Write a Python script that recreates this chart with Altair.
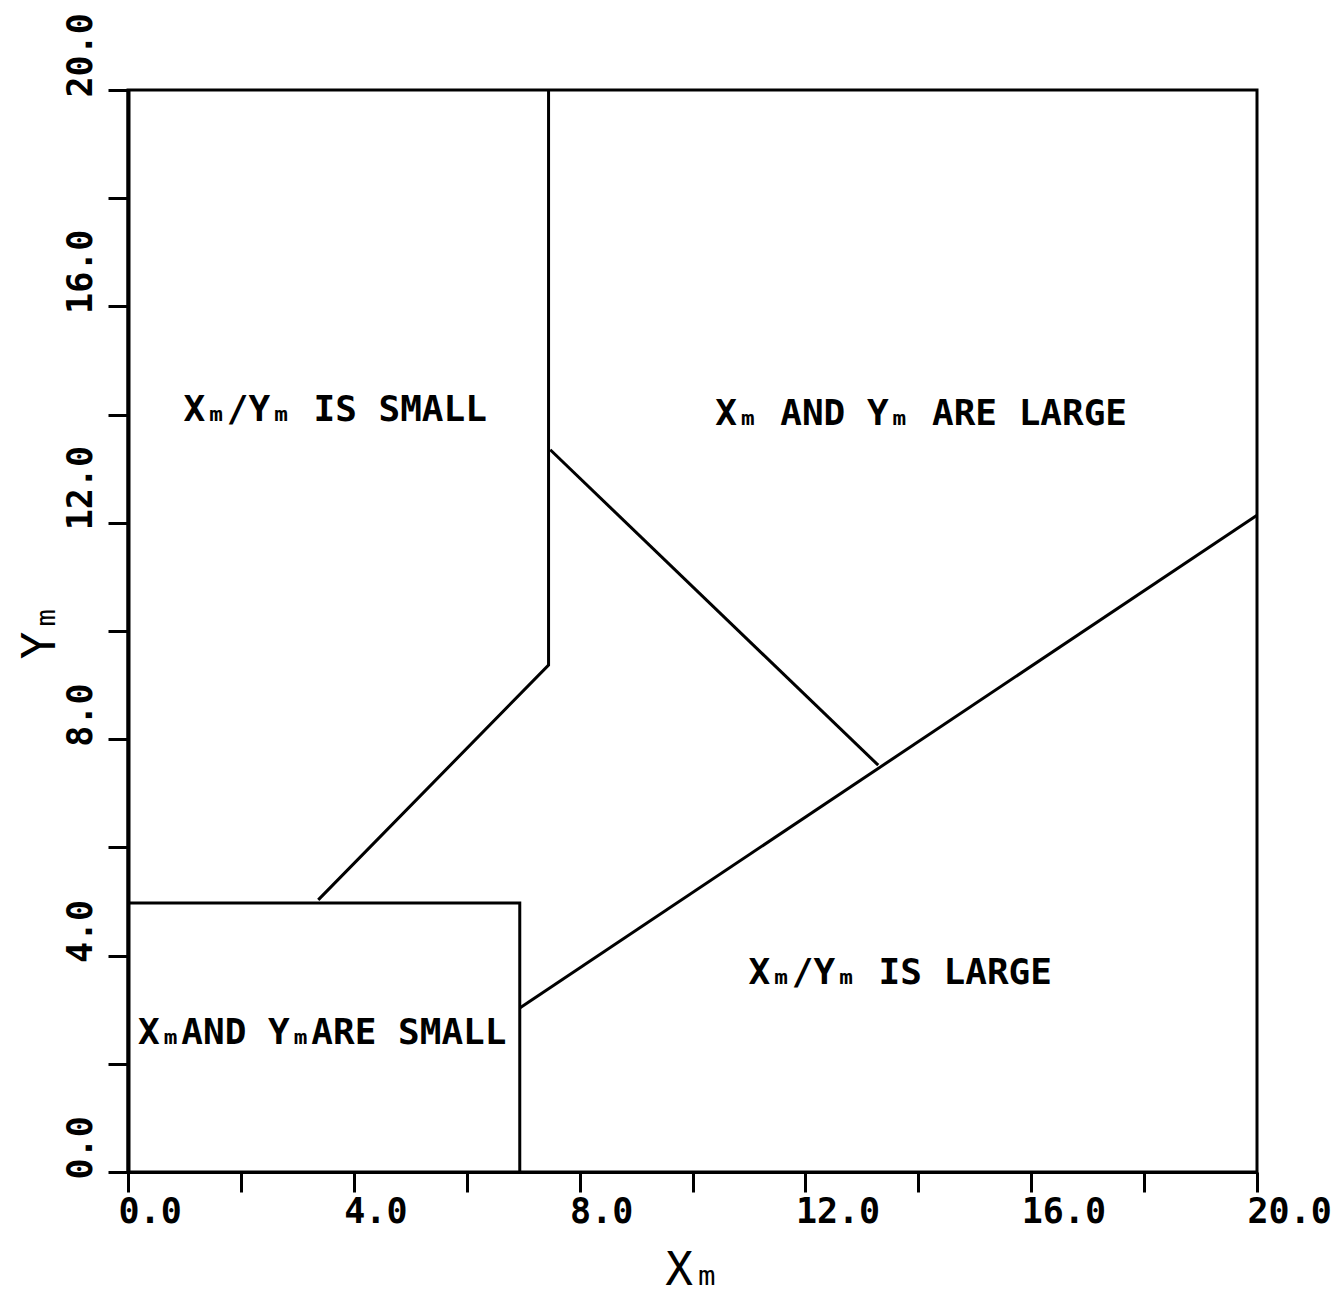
import altair as alt
import pandas as pd

# Boundary segments (data units)
seg_id = ["A", "A", "A", "B", "B", "B", "C", "C", "D", "D"]
seg_order = [0, 1, 2, 0, 1, 2, 0, 1, 0, 1]
seg_x = [7.45, 7.45, 3.37, 0.0, 6.94, 6.94, 6.94, 20.0, 7.48, 13.29]
seg_y = [20.0, 9.37, 5.03, 4.97, 4.97, 0.0, 3.03, 12.14, 13.35, 7.52]

# Region labels
label_text = ["Xₘ/Yₘ IS SMALL", "Xₘ AND Yₘ ARE LARGE", "Xₘ/Yₘ IS LARGE", "XₘAND YₘARE SMALL"]
label_x = [3.67, 14.05, 13.68, 3.44]
label_y = [14.08, 14.01, 3.68, 2.57]

tick_values = [0, 2, 4, 6, 8, 10, 12, 14, 16, 18, 20]

FONT = "DejaVu Sans Mono"

segs = pd.DataFrame({"seg": seg_id, "order": seg_order, "x": seg_x, "y": seg_y})
labels = pd.DataFrame({"text": label_text, "x": label_x, "y": label_y})

label_expr = "datum.value % 4 == 0 ? format(datum.value, '.1f') : ''"

xscale = alt.Scale(domain=[0, 20], nice=False, zero=False)
yscale = alt.Scale(domain=[0, 20], nice=False, zero=False)

xaxis = alt.Axis(
    values=tick_values, labelExpr=label_expr, grid=False,
    labelAlign="left", labelOffset=-10, labelFlush=False, labelOverlap=False,
    labelFont=FONT, labelFontSize=35, labelFontWeight="bold", labelColor="black",
    labelPadding=2, tickSize=20, tickWidth=3, tickColor="black",
    domainColor="black", domainWidth=3,
    title="Xₘ", titleFont=FONT, titleFontSize=46, titleFontWeight="normal",
    titleColor="black", titleY=98, titleBaseline="middle",
)
yaxis = alt.Axis(
    values=tick_values, labelExpr=label_expr, grid=False,
    labelAngle=270, labelAlign="left", labelBaseline="bottom", labelOffset=7,
    labelFlush=False, labelOverlap=False,
    labelFont=FONT, labelFontSize=35, labelFontWeight="bold", labelColor="black",
    labelPadding=10, tickSize=20, tickWidth=3, tickColor="black",
    domainColor="black", domainWidth=4,
    title="Yₘ", titleFont=FONT, titleFontSize=46, titleFontWeight="normal",
    titleColor="black", titleX=-88, titleAngle=270, titleBaseline="middle",
)

lines = alt.Chart(segs).mark_line(color="black", strokeWidth=3).encode(
    x=alt.X("x:Q", scale=xscale, axis=xaxis),
    y=alt.Y("y:Q", scale=yscale, axis=yaxis),
    detail="seg:N",
    order="order:Q",
)

texts = alt.Chart(labels).mark_text(
    font=FONT, fontSize=36, fontWeight="bold", color="black",
    align="center", baseline="middle",
).encode(
    x=alt.X("x:Q", scale=xscale),
    y=alt.Y("y:Q", scale=yscale),
    text="text:N",
)

chart = alt.layer(lines, texts).properties(
    width=1129, height=1082,
    padding={"left": 128, "top": 90, "right": 80, "bottom": 122},
    autosize="none",
    background="white",
).configure_view(stroke="black", strokeWidth=3)

chart.save("out.html", embed_options={"renderer": "svg", "actions": False})
